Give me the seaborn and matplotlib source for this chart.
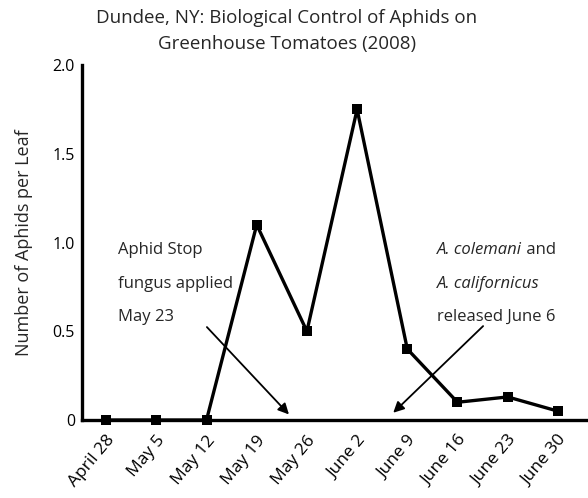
import matplotlib
matplotlib.use("Agg")
import matplotlib.pyplot as plt
import seaborn as sns
import pandas as pd

# data
weeks = ["April 28", "May 5", "May 12", "May 19", "May 26",
         "June 2", "June 9", "June 16", "June 23", "June 30"]
aphids = [0, 0, 0, 1.1, 0.5, 1.75, 0.4, 0.1, 0.13, 0.05]
y_ticks = [0, 0.5, 1.0, 1.5, 2.0]
y_labels = ["0", "0.5", "1.0", "1.5", "2.0"]

df = pd.DataFrame({"week": range(len(weeks)), "aphids": aphids})

sns.set_style("white")
plt.rcParams["font.family"] = ["Open Sans", "DejaVu Sans"]

fig = plt.figure(figsize=(5.88, 4.98), dpi=100)
ax = fig.add_axes([0.1395, 0.1566, 0.8605, 0.7129])

sns.lineplot(data=df, x="week", y="aphids", ax=ax, color="black",
             linewidth=2.4, marker="s", markersize=6.5, markeredgewidth=0,
             clip_on=False)

ax.set_xlim(-0.48, 9.6)
ax.set_ylim(0, 2.0)
ax.set_xticks(range(len(weeks)))
ax.set_xticklabels(weeks, rotation=50, ha="right", rotation_mode="anchor",
                   fontsize=12.5)
ax.set_yticks(y_ticks)
ax.set_yticklabels(y_labels, fontsize=11.5)
ax.tick_params(axis="both", direction="in", length=7, width=2.2, pad=5,
               colors="black")
ax.tick_params(axis="x", length=6, pad=9)
for side in ["top", "right"]:
    ax.spines[side].set_visible(False)
for side in ["left", "bottom"]:
    ax.spines[side].set_linewidth(2.4)
    ax.spines[side].set_color("black")
ax.set_xlabel("")
ax.set_ylabel("Number of Aphids per Leaf", fontsize=13, labelpad=14)

fig.text(0.488, 0.963, "Dundee, NY: Biological Control of Aphids on",
         ha="center", va="center", fontsize=13.5)
fig.text(0.488, 0.911, "Greenhouse Tomatoes (2008)",
         ha="center", va="center", fontsize=13.5)

# left annotation
for i, line in enumerate(["Aphid Stop", "fungus applied", "May 23"]):
    ax.text(0.24, 0.955 - i * 0.187, line, fontsize=12, va="center")
ax.annotate("", xy=(3.68, 0.02), xytext=(1.97, 0.535),
            arrowprops=dict(arrowstyle="-|>", color="black", lw=1.3,
                            mutation_scale=16))

# right annotation
t1 = ax.text(6.6, 0.955, "A. colemani", fontsize=12, va="center",
             style="italic")
ax.annotate(" and", xy=(1, 0.5), xycoords=t1, va="center", fontsize=12)
ax.text(6.6, 0.768, "A. californicus", fontsize=12, va="center",
        style="italic")
ax.text(6.6, 0.58, "released June 6", fontsize=12, va="center")
ax.annotate("", xy=(5.68, 0.03), xytext=(7.55, 0.54),
            arrowprops=dict(arrowstyle="-|>", color="black", lw=1.3,
                            mutation_scale=16))

fig.savefig("out.png", dpi=100)
